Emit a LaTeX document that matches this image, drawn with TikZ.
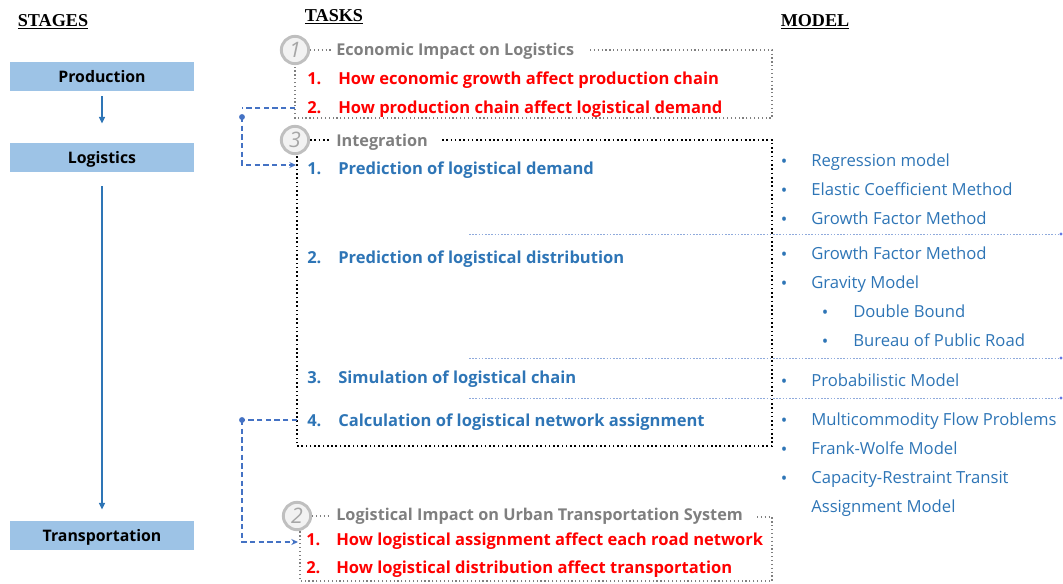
\documentclass[tikz,border=0pt]{standalone}
\usepackage{fontspec}
\setmainfont{Open Sans}
\newfontfamily\headfont{Liberation Serif}
\usetikzlibrary{arrows.meta}
\definecolor{tblue}{HTML}{2E75B6}
\definecolor{boxblue}{HTML}{9DC3E6}
\definecolor{tred}{HTML}{FF0000}
\definecolor{tgrey}{HTML}{7F7F7F}
\definecolor{cgrey}{HTML}{BFBFBF}
\definecolor{lblue}{HTML}{4472C4}
\definecolor{sepblue}{HTML}{8FAADC}
\tikzset{
  head/.style={font=\headfont\bfseries\fontsize{13.6}{15}\selectfont, inner sep=0pt},
  stagebox/.style={fill=boxblue, minimum width=138pt, minimum height=21.75pt, inner sep=0pt,
     font=\bfseries\fontsize{11.9}{13}\selectfont, text height=9pt, text depth=0pt},
  numcirc/.style={circle, draw=cgrey, line width=2.2pt, fill=black!5, minimum size=20.5pt, inner sep=0pt,
     text=black!35, font=\itshape\fontsize{16}{17}\selectfont},
  ttl/.style={anchor=west, inner sep=0pt, text=tgrey, font=\bfseries\fontsize{12.2}{13}\selectfont,
     text height=9pt, text depth=0pt},
  itm/.style={anchor=west, inner sep=0pt, font=\bfseries\fontsize{12.4}{13}\selectfont,
     text height=9pt, text depth=0pt},
  mdl/.style={anchor=west, inner sep=0pt, text=tblue, font=\fontsize{12.5}{13}\selectfont,
     text height=9pt, text depth=0pt},
  bul/.style={inner sep=0pt, text=tblue, font=\fontsize{13}{14}\selectfont, yshift=-2.4pt},
  gbox/.style={draw=tgrey, dotted, line width=0.9pt},
  kbox/.style={draw=black, dotted, line width=1.2pt},
  sep/.style={draw=sepblue, dashed, dash pattern=on 1.2pt off 1.2pt, line width=0.5pt},
  conn/.style={draw=lblue, dashed, dash pattern=on 4pt off 2.5pt, line width=1pt},
  stagearrow/.style={draw=tblue, line width=1pt, -{Triangle[length=5pt,width=4.5pt]}},
}
\begin{document}
\begin{tikzpicture}[x=0.75pt,y=-0.75pt]
\useasboundingbox (0,0) rectangle (1063,583);
% headings
\node[head] (hs) at (53,22) {\underline{STAGES}};
\node[head] (ht) at (334,17) {\underline{TASKS}};
\node[head] (hm) at (815,22) {\underline{MODEL}};
% stages
\node[stagebox] (prod) at (102,76) {Production};
\node[stagebox] (logi) at (102,157) {Logistics};
\node[stagebox] (tran) at (102,535) {Transportation};
\draw[stagearrow] ([yshift=-4pt]prod.south) -- ([yshift=14pt]logi.north);
\draw[stagearrow] ([yshift=-11pt]logi.south) -- ([yshift=8pt]tran.north);

% ---------- box 1
\node[numcirc] (c1) at (295,50) {1};
\node[ttl] (t1) at (336,49) {Economic Impact on Logistics};
\coordinate (b1a) at (590,50);
\coordinate (b1b) at (772,50);
\coordinate (b1c) at (772,118);
\coordinate (b1d) at (295,118);
\draw[gbox] (c1.east) -- ([xshift=-4pt]t1.west |- c1.east);
\draw[gbox] (b1a) -- (b1b) -- (b1c) -- (b1d) -- (c1.south);
\node[itm, text=tred] (n11) at (307,78) {1.};
\node[itm, text=tred] (i11) at (338,78) {How economic growth affect production chain};
\node[itm, text=tred] (n12) at (307,107) {2.};
\node[itm, text=tred] (i12) at (338,107) {How production chain affect logistical demand};

% ---------- box 3
\node[numcirc] (c3) at (295,140) {3};
\node[ttl] (t3) at (336,140) {Integration};
\coordinate (b3a) at (442,140);
\coordinate (b3b) at (772,140);
\coordinate (b3c) at (772,446);
\coordinate (b3d) at (297,446);
\draw[kbox] (c3.east) -- ([xshift=-4pt]t3.west |- c3.east);
\draw[kbox] (b3a) -- (b3b) -- (b3c) -- (b3d) -- (b3d |- c3.south);
\node[itm, text=tblue] (n31) at (307,168) {1.};
\node[itm, text=tblue] (i31) at (338,168) {Prediction of logistical demand};
\node[itm, text=tblue] (n32) at (307,257) {2.};
\node[itm, text=tblue] (i32) at (338,257) {Prediction of logistical distribution};
\node[itm, text=tblue] (n33) at (307,377) {3.};
\node[itm, text=tblue] (i33) at (338,377) {Simulation of logistical chain};
\node[itm, text=tblue] (n34) at (307,420) {4.};
\node[itm, text=tblue] (i34) at (338,420) {Calculation of logistical network assignment};

% ---------- box 2
\node[numcirc] (c2) at (297,516) {2};
\node[ttl] (t2) at (336,514) {Logistical Impact on Urban Transportation System};
\coordinate (b2a) at (757,517);
\coordinate (b2b) at (772,517);
\coordinate (b2c) at (772,581);
\coordinate (b2d) at (300,581);
\draw[gbox] (c2.east) -- ([xshift=-4pt]t2.west |- c2.east);
\draw[gbox] (b2a) -- (b2b) -- (b2c) -- (b2d) -- (b2d |- c2.south);
\node[itm, text=tred] (n21) at (306,539) {1.};
\node[itm, text=tred] (i21) at (336,539) {How logistical assignment affect each road network};
\node[itm, text=tred] (n22) at (306,567) {2.};
\node[itm, text=tred] (i22) at (336,567) {How logistical distribution affect transportation};

% ---------- separators
\coordinate (s1a) at (469,234); \coordinate (s1b) at (1061,234);
\coordinate (s2a) at (469,358); \coordinate (s2b) at (1061,358);
\coordinate (s3a) at (469,398); \coordinate (s3b) at (1061,398);
\foreach \s in {1,2,3}{
  \draw[sep] (s\s a) -- (s\s b);
  \fill[sepblue!70!blue] (s\s b) circle (1.2pt);
}

% ---------- models
\foreach \y/\t [count=\i] in {160/Regression model, 189/Elastic Coefficient Method, 218/Growth Factor Method,
   253/Growth Factor Method, 282/Gravity Model, 380/Probabilistic Model,
   419/Multicommodity Flow Problems, 448/Frank-Wolfe Model, 477/Capacity-Restraint Transit}{
  \node[bul] (mb\i) at (784,\y) {•};
  \node[mdl] (m\i) at (811,\y) {\t};
}
\node[mdl] (m10) at (811,506) {Assignment Model};
\node[bul] (sb1) at (825,311) {•};
\node[mdl] (sm1) at (853,311) {Double Bound};
\node[bul] (sb2) at (825,340) {•};
\node[mdl] (sm2) at (853,340) {Bureau of Public Road};

% ---------- dashed connectors
\coordinate (k1a) at (295,108);
\coordinate (k1b) at (242,108);
\coordinate (k1c) at (242,117);
\coordinate (k1d) at (242,165);
\coordinate (k1e) at (296,165);
\draw[conn] (k1a) -- (k1b);
\fill[lblue] (k1c) circle (2.2pt);
\draw[conn, -{Stealth[length=5pt,width=4.5pt]}] (k1c) -- (k1d) -- (k1e);

\coordinate (k2a) at (297,420);
\coordinate (k2b) at (242,420);
\coordinate (k2c) at (242,542);
\coordinate (k2d) at (298,542);
\draw[conn] (k2a) -- (k2b);
\fill[lblue] (k2b) circle (2.2pt);
\draw[conn, -{Stealth[length=5pt,width=4.5pt]}] (k2b) -- (k2c) -- (k2d);
\end{tikzpicture}
\end{document}
